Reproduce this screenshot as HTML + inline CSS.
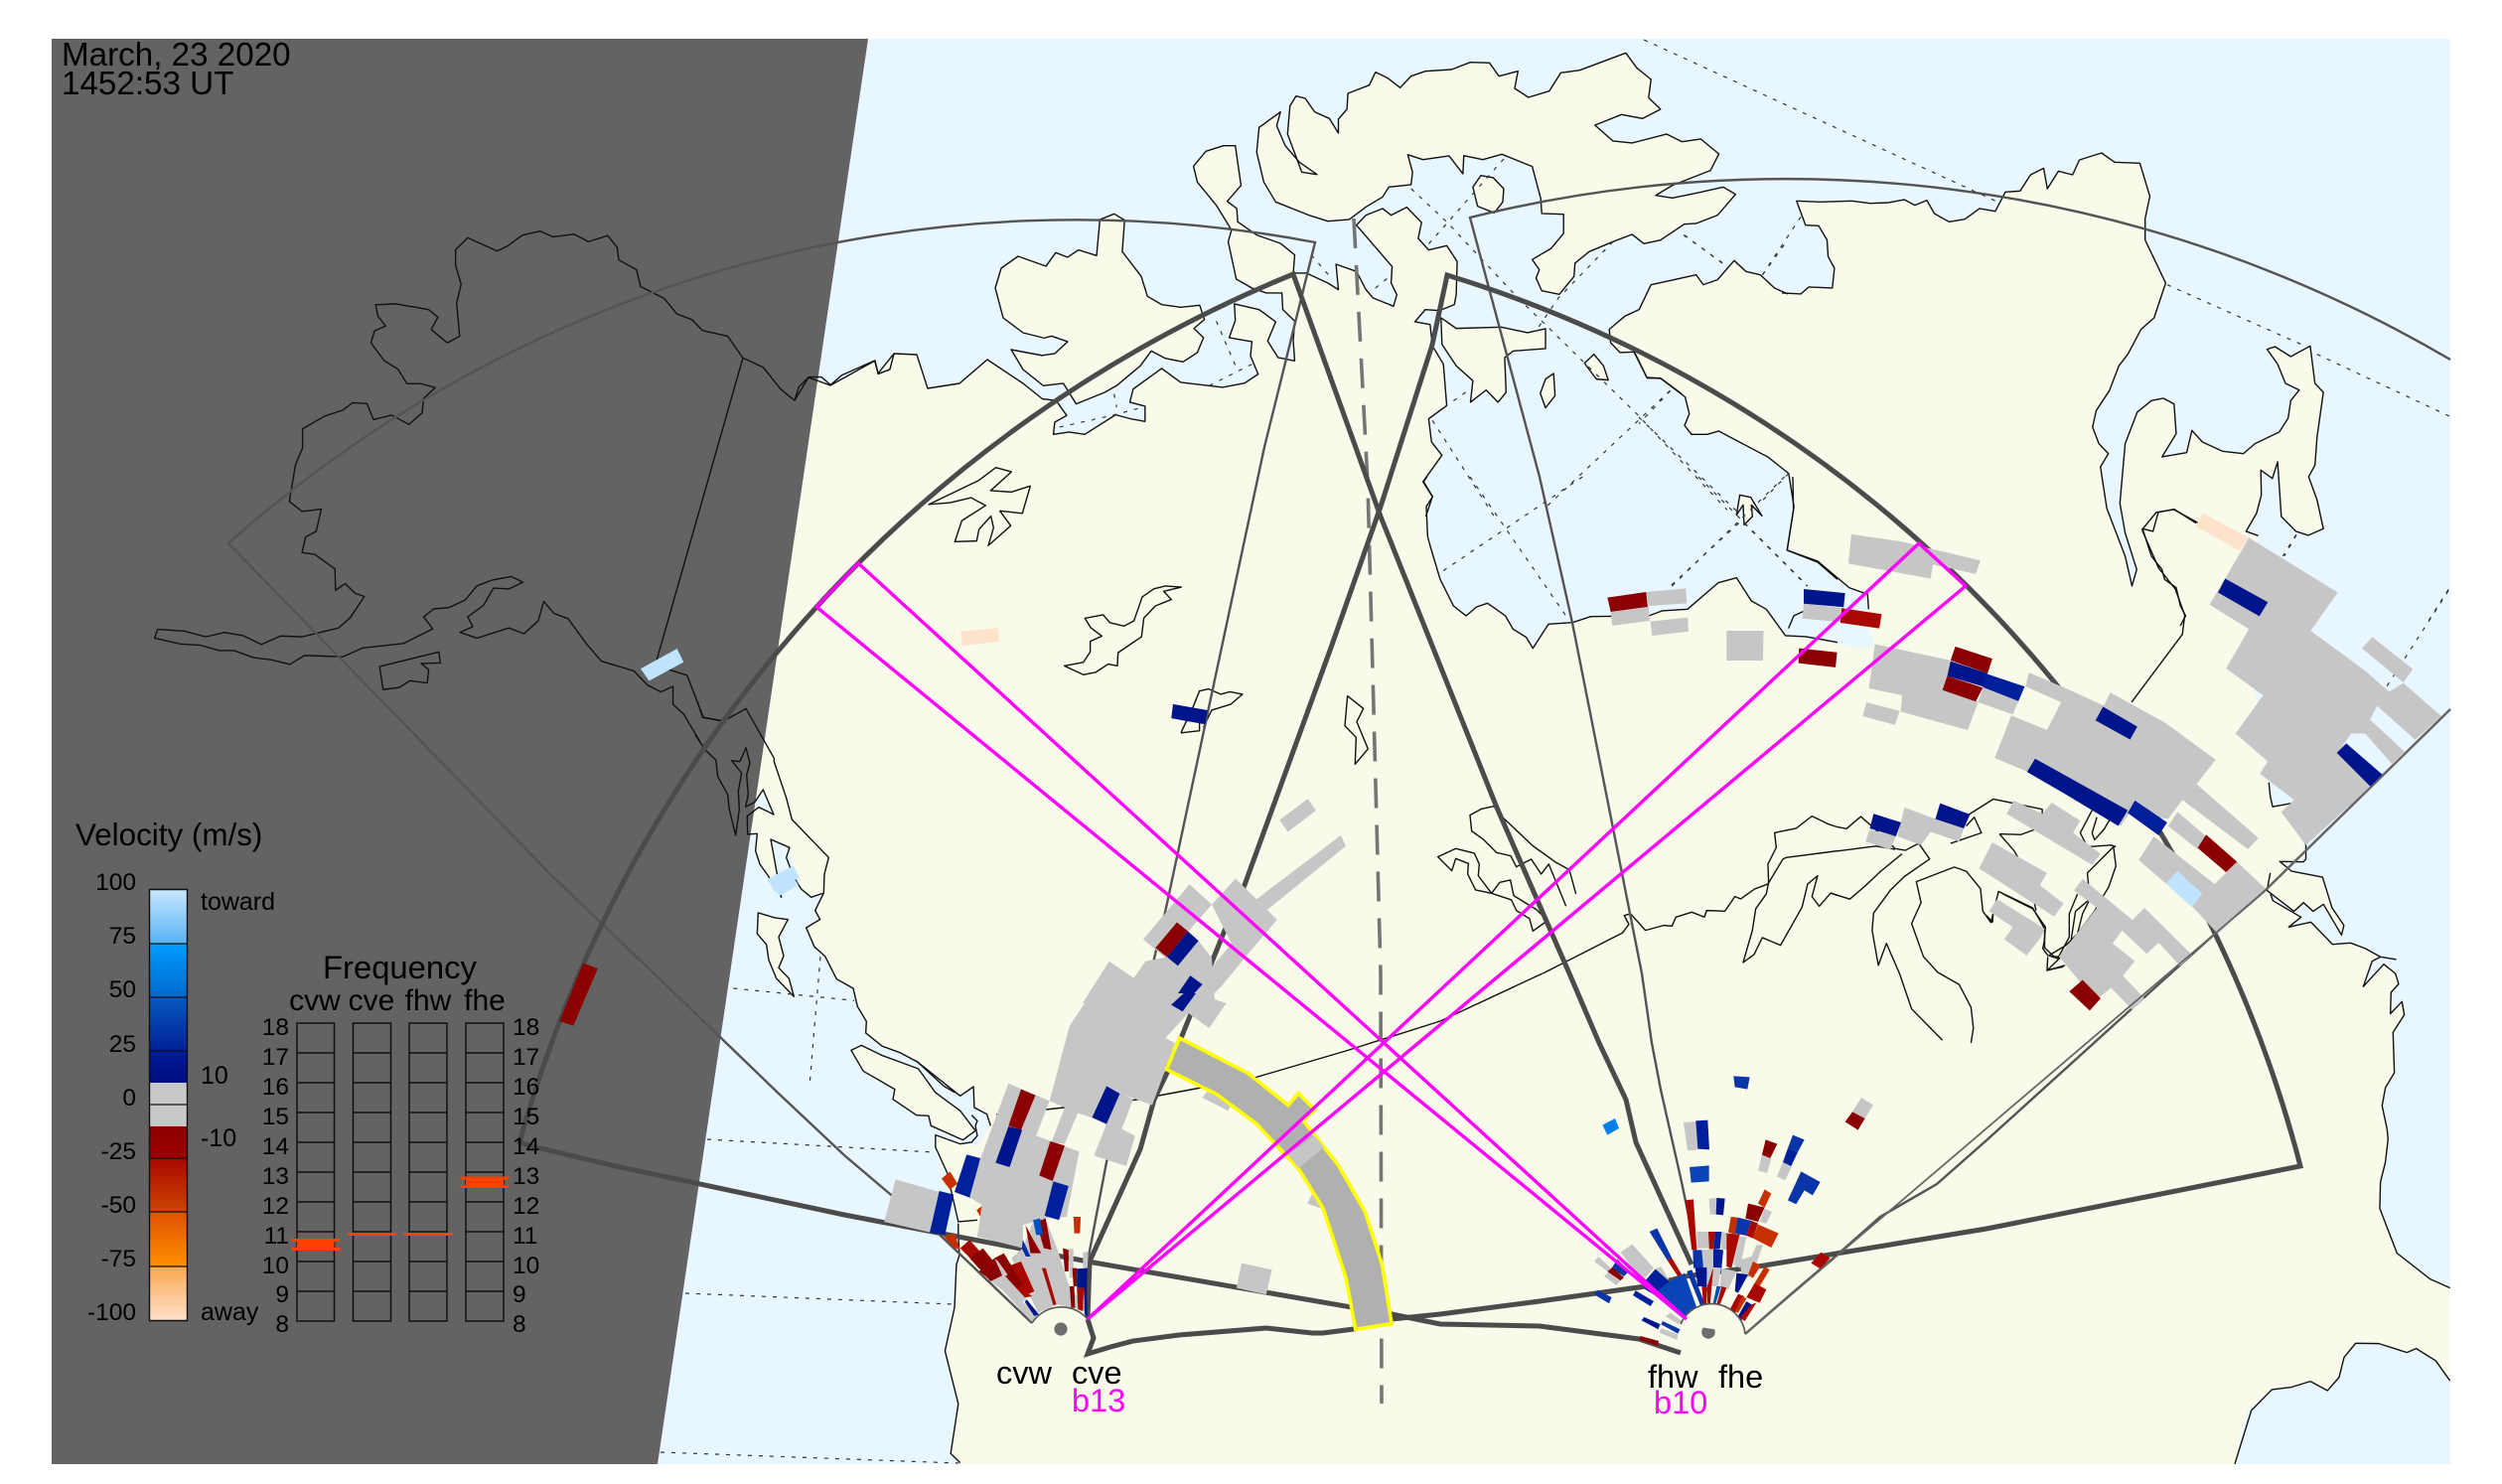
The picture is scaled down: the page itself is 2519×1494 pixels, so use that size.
<!DOCTYPE html>
<html><head><meta charset="utf-8"><title>SuperDARN velocity map</title>
<style>
html,body{margin:0;padding:0;background:#fff}
svg{display:block}
svg *{vector-effect:non-scaling-stroke}
text{font-family:"Liberation Sans",sans-serif;fill:#000}
.c{fill:none;stroke:#111;stroke-width:1.4;stroke-linejoin:round}
.i{fill:#f9faea;stroke:#111;stroke-width:1.4;stroke-linejoin:round}
.d{fill:none;stroke:#333;stroke-width:1.2;stroke-dasharray:4 7}
.T{fill:none;stroke:#4b4b4b;stroke-width:5;stroke-linejoin:miter}
.t{fill:none;stroke:#545454;stroke-width:2.4}
.g{fill:#c6c6c6}.r{fill:#8b0000}.R{fill:#a80800}.o{fill:#c63000}.b{fill:#00148c}.B{fill:#0a35a8}.L{fill:#0a45b8}.l{fill:#c0e4ff}.p{fill:#fde3cc}
.fb{fill:none;stroke:#111;stroke-width:1.5}
.m{fill:none;stroke:#ff00ff;stroke-width:3.4;stroke-linejoin:miter}
</style></head><body>
<svg xmlns="http://www.w3.org/2000/svg" width="2519" height="1494" viewBox="0 0 2519 1494">
<defs>
<linearGradient id="g1" x1="0" y1="0" x2="0" y2="1"><stop offset="0" stop-color="#c6e8ff"/><stop offset="1" stop-color="#58b2f2"/></linearGradient>
<linearGradient id="g2" x1="0" y1="0" x2="0" y2="1"><stop offset="0" stop-color="#009cff"/><stop offset="1" stop-color="#0068cc"/></linearGradient>
<linearGradient id="g3" x1="0" y1="0" x2="0" y2="1"><stop offset="0" stop-color="#0858c0"/><stop offset="1" stop-color="#00209a"/></linearGradient>
<linearGradient id="g4" x1="0" y1="0" x2="0" y2="1"><stop offset="0" stop-color="#001c98"/><stop offset="1" stop-color="#000c80"/></linearGradient>
<linearGradient id="g5" x1="0" y1="0" x2="0" y2="1"><stop offset="0" stop-color="#8b0000"/><stop offset="1" stop-color="#a00000"/></linearGradient>
<linearGradient id="g6" x1="0" y1="0" x2="0" y2="1"><stop offset="0" stop-color="#aa0800"/><stop offset="1" stop-color="#cc4400"/></linearGradient>
<linearGradient id="g7" x1="0" y1="0" x2="0" y2="1"><stop offset="0" stop-color="#e05000"/><stop offset="1" stop-color="#ff9000"/></linearGradient>
<linearGradient id="g8" x1="0" y1="0" x2="0" y2="1"><stop offset="0" stop-color="#f8a850"/><stop offset="1" stop-color="#ffe2cc"/></linearGradient>
</defs>
<rect width="2519" height="1494" fill="#fff"/>
<rect x="52" y="39" width="2415" height="1435" fill="#e8f6ff"/>

<!-- coarse land fill -->
<path fill="#f9faea" d="M700 420 800 403 814 380 836 388 881 363 884 376 900 356 923 357 934 391 966 386 994 362 1030 386 1050 402 1063 403 1074 418 1062 425 1060 437 1076 435 1092 437 1123 418 1153 424 1153 409 1138 405 1141 392 1170 371 1189 385 1231 390 1253 386 1267 377 1259 358 1260 344 1237 340 1244 323 1243 306 1268 312 1284 324 1276 343 1287 360 1303 363 1302 343 1303 323 1292 312 1291 295 1275 295 1245 281 1237 243 1240 232 1225 207 1205 183 1202 167 1214 152 1232 147 1244 147 1249 187 1236 203 1245 210 1246 223 1265 237 1289 245 1303 257 1302 275 1315 275 1337 285 1347 292 1345 266 1366 273 1375 292 1382 300 1403 308 1406 297 1401 285 1402 268 1366 227 1375 217 1392 210 1401 217 1416 209 1431 224 1428 240 1438 252 1457 247 1467 263 1466 297 1464 307 1449 313 1435 312 1425 324 1440 327 1442 348 1453 367 1457 408 1438 422 1441 445 1452 458 1433 485 1442 500 1436 510 1440 550 1450 583 1463 610 1476 620 1487 611 1498 607 1516 620 1523 633 1537 642 1543 653 1559 628 1583 627 1602 621 1660 620 1673 615 1699 613 1730 587 1748 582 1763 605 1778 613 1798 640 1841 646 1869 653 1889 650 1882 635 1880 598 1861 592 1831 567 1799 554 1806 510 1801 477 1780 460 1730 434 1719 437 1703 437 1696 428 1701 417 1697 400 1672 381 1658 380 1645 354 1631 355 1622 345 1620 332 1636 318 1650 312 1662 287 1708 277 1715 287 1729 282 1746 262 1758 273 1772 277 1794 295 1813 296 1821 289 1845 290 1847 270 1841 258 1839 242 1831 227 1818 227 1809 202 1864 202 1901 204 1917 201 1928 207 1940 202 1947 215 1962 223 1978 221 1993 210 2009 213 2019 193 2034 192 2044 176 2058 169 2061 190 2072 172 2087 176 2094 161 2116 154 2129 163 2154 164 2164 198 2160 220 2160 242 2180 285 2169 320 2155 332 2142 357 2133 368 2124 393 2110 413 2107 430 2113 447 2123 457 2115 470 2121 512 2140 560 2146 590 2151 573 2140 537 2134 507 2140 447 2152 415 2166 403 2178 401 2189 407 2191 437 2177 460 2202 456 2207 433 2217 445 2238 454 2259 457 2270 447 2295 435 2304 421 2306 403 2315 393 2301 386 2293 367 2283 352 2290 349 2306 359 2326 348 2331 386 2339 395 2333 440 2331 468 2324 480 2333 503 2339 532 2324 539 2312 535 2297 520 2293 465 2288 482 2276 473 2277 498 2272 517 2261 535 2273 539 2262 640 2284 788 2288 812 2307 809 2322 865 2295 867 2307 877 2338 883 2348 914 2360 931 2357 941 2339 910 2329 917 2319 909 2310 917 2282 896 2288 907 2317 923 2304 933 2327 928 2348 951 2367 949 2382 955 2397 963 2388 968 2379 993 2400 971 2412 980 2415 991 2407 999 2407 1021 2418 1008 2421 1022 2409 1039 2411 1080 2402 1095 2398 1113 2404 1147 2402 1170 2397 1190 2396 1217 2413 1262 2447 1288 2467 1297 2467 1390 2452 1370 2433 1358 2423 1362 2395 1353 2372 1352 2360 1367 2355 1387 2343 1400 2326 1391 2307 1397 2287 1399 2262 1420 2250 1474 962 1474 967 1473 957 1463 965 1413 951 1360 961 1317 965 1263 965 1232 953 1180 942 1155 942 1144 984 1154 997 1133 994 1122 981 1116 980 1094 969 1103 923 1068 888 1053 872 1040 872 1028 863 1013 859 995 842 986 831 963 820 953 812 934 826 926 821 917 829 899 817 903 800 887 795 853 776 845 787 903 773 882 761 857 762 839 753 840 752 822 764 813 779 820 768 795 760 807 700 700z"/>
<path fill="#f9faea" d="M1122 215 1132 222 1130 253 1149 278 1155 298 1170 307 1208 307 1213 322 1202 331 1212 340 1205 355 1191 364 1173 361 1159 353 1148 368 1124 388 1112 395 1083 407 1071 386 1050 388 1030 372 1018 352 1050 358 1062 356 1075 344 1062 338 1050 340 1030 335 1010 320 1002 290 1008 270 1025 258 1053 268 1063 254 1075 259 1086 252 1104 257 1107 221z"/>

<!-- night shadow -->
<polygon points="52,39 874,39 662,1474 52,1474" fill="#636363"/>

<!-- Z5 group: arctic -->
<g transform="translate(1050 20) scale(.4783 .3333)">
<path class="i" d="M500 278 455 325 450 400 465 490 490 550 560 590 600 608 645 603 680 565 715 535 728 505 775 498 778 460 768 407 800 422 855 411 884 465 886 410 926 422 966 406 1030 443 1048 540 1050 585 1096 587 1096 645 1070 690 1030 724 1045 755 1038 780 1050 818 1087 829 1118 775 1120 735 1150 700 1200 670 1240 648 1265 676 1300 665 1350 617 1375 615 1420 590 1458 527 1432 505 1380 522 1325 538 1290 530 1325 500 1405 455 1423 405 1385 360 1345 368 1313 345 1240 372 1200 366 1162 318 1218 286 1262 298 1300 270 1275 235 1280 180 1250 145 1227 100 1130 152 1090 160 1066 215 1022 234 993 207 1000 155 960 170 940 130 900 128 860 150 805 155 775 170 752 205 725 175 700 158 687 197 642 222 640 270 622 300 622 342 603 298 572 278 552 237 533 230 520 260 515 345 545 460 577 467 540 430 510 380 492 320z"/>
<path class="i" d="M905 505 922 470 948 477 970 510 968 550 950 583 915 563z"/>
<path class="i" d="M1140 1037 1160 1010 1180 1045 1190 1088 1165 1085z"/>
<path class="i" d="M1075 1068 1078 1135 1058 1172 1047 1128 1058 1085z"/>
<path class="i" d="M838 900 870 932 965 928 1020 945 1058 933 1058 993 990 1000 972 1020 975 1125 958 1155 933 1118 900 1155 905 1090 870 1045 840 980z"/>
<path class="c" d="M0 1145 28 1150 50 1195 25 1215 22 1252 55 1245 88 1252 153 1193 185 1205 215 1213 215 1167 183 1155 190 1115 250 1053 290 1095 378 1110 425 1097 453 1070 437 1015 440 972 392 960 405 908 403 858 455 875 490 912 473 970 495 1020 530 1030 527 970 530 910 505 875 503 825 470 825 440 810 407 783 390 670 397 635 365 560 325 490 317 442 343 397 380 380 405 380 417 500 388 548 408 570 410 610 450 650 500 675 530 710 527 765 555 765 600 795 622 815 617 738 660 760 680 815 695 840 738 865 745 830 733 795 735 745 660 620 680 590 715 570 733 590 766 566 797 612 790 660 812 695 850 682 872 730 870 830 866 860 835 878 805 875 783 912 815 920 820 985 843 1040 850 1165 812 1205 818 1275 840 1315 800 1395 820 1440 806 1500"/>
<path class="c" d="M120 603 150 586 172 605 167 700 207 775 220 835 250 860 290 868 330 862 340 905 318 932 338 960 325 1005 295 1033 257 1022 228 1000 205 1045 155 1105 130 1125 70 1160 43 1098 0 1105"/>
<path class="c" d="M120 603 113 712 75 695 52 717 27 703 6 745"/>
<path class="c" d="M0 962 18 955 52 972 25 1008 0 1013"/>
<path class="c" d="M1568 828 1540 810 1510 770 1480 760 1455 727 1420 785 1390 800 1375 770 1280 800 1255 875 1225 895 1192 935 1195 975 1215 1005 1245 1003 1272 1082 1300 1082 1345 1130"/>
</g>
<path class="c" d="M1053 268 1025 258 1008 270 1002 290 1010 320 1030 335 1050 340M1050 358 1018 352 1030 372 1050 388M800 403 814 380 836 388 881 363 884 376 900 356 923 357 934 391 966 386 994 362 1030 386 1050 402"/>

<!-- Z7 group -->
<g transform="translate(1650 130) scale(.5293 .3333)">
<path class="c" d="M272 495 308 498 323 477 368 480 372 420 360 385 358 335 342 292 317 290 300 217 345 220 405 217 440 224 475 222 505 213 525 230 548 215 562 255 590 280 620 272 648 240 678 248 697 190 725 187 745 138 770 118 777 180 798 127 825 138 838 93 880 72 905 100 953 103 972 203 963 270 963 335 1002 465 980 570 955 605 930 680 913 715 895 790 870 850 863 900 875 950 893 980 878 1020 890 1145 925 1290 938 1380 947 1330 925 1220 915 1130 925 950 948 855 975 820 998 813 1018 830 1022 920 995 990 1042 977 1052 910 1072 945 1110 973 1150 980 1172 950 1218 915 1235 873 1240 820 1256 788 1230 768 1215 710 1195 665 1210 657 1240 687 1277 655 1286 768 1302 795 1290 930 1286 1015 1274 1050 1290 1120 1302 1207 1273 1227 1250 1215 1222 1170 1215 1005 1205 1055 1183 1030 1184 1105 1175 1160 1155 1215 1178 1228"/>
<path class="c" d="M88 810 96 860 87 895 100 922 130 922 152 912 245 990 285 1040 295 1140 282 1272 340 1305 400 1385 435 1405 437 1450"/>
<path class="c" d="M1060 1190 1018 1148 988 1157 978 1215 958 1207 975 1290 995 1330 1000 1360 1022 1385 1030 1440 1040 1470 1030 1500"/>
<path class="d" d="M1005 470 1260 650M1290 680 1543 868M85 320 160 405M235 440 310 260M60 790 0 890M0 870 190 1160M285 1040 230 1130M190 1190 60 1380M200 1190 320 1380M1250 1225 1225 1290M1540 1390 1500 1490"/>
</g>
<path class="d" d="M1655 40 2015 205"/>
<path class="c" d="M1645 354 1658 380 1672 381 1697 400"/>

<!-- Z9 group -->
<g transform="translate(1350 480) scale(.3333)">
<path class="c" d="M1365 0 1367 100 1348 222 1440 258 1500 310"/>
<path class="c" d="M260 0 250 15 277 60 258 90 262 180 270 210 300 310 340 390 378 420 410 393 443 382 497 420 520 460 560 485 580 518 627 445 700 440 755 422 930 420 970 405 1047 400 1140 320 1195 305 1240 375 1285 400 1343 480 1405 483 1500 500"/>
<path class="c" d="M1352 458 1368 420 1400 405 1430 405"/>
<path class="i" d="M1195 115 1205 55 1238 62 1272 118 1240 85 1243 120 1218 145 1215 85z"/>
<path class="c" d="M20 662 68 700 48 740 82 822 43 868 46 787 12 752z"/>
<path class="c" d="M710 1260 690 1187 650 1165 580 1115 490 1030 462 995 425 1003 390 1022 395 1070 430 1095 470 1135 513 1145 530 1178 575 1155 605 1200 628 1170 665 1260 680 1297"/>
<path class="c" d="M293 1148 347 1123 403 1137 418 1170 415 1205 455 1258 480 1225 512 1218 522 1265 590 1307 625 1340 580 1372 570 1335 530 1310 515 1278 455 1258 407 1248 383 1200 385 1168 347 1153 335 1190z"/>
<path class="c" d="M610 1500 850 1378 870 1352 856 1325 875 1320 920 1370 975 1355 1000 1357 1012 1330 1060 1315 1098 1330 1105 1310 1160 1312 1190 1268 1208 1275 1250 1245 1290 1230 1335 1155 1345 1150 1500 1130"/>
<path class="c" d="M1500 1058 1475 1050 1423 1025 1375 1062 1310 1075 1315 1120 1290 1170 1292 1225 1285 1260 1253 1305 1243 1370 1215 1467 1248 1443 1273 1392 1328 1415 1393 1300 1410 1230 1440 1205 1423 1268 1445 1297 1480 1257 1500 1265"/>
<path class="d" d="M390 0 680 420M730 0 300 290M1080 0 1410 330M1340 0 1000 330"/>
</g>

<!-- Z4 lines -->
<g transform="translate(1750 500) scale(.4783 .3508)">
<path class="c" d="M850 95 880 45 917 37 968 75M850 95 885 205 920 265 940 340 935 395 828 590"/>
<path class="c" d="M209 948 228 953 258 918 285 950 330 1010 352 1015 380 995 403 1040 350 1090 320 1130 285 1195 282 1245 295 1345 312 1282 340 1370 365 1470 430 1560"/>
<path class="c" d="M209 1017 290 1003 330 1012M195 1138 235 1155 265 1120 300 1075 345 1025"/>
<path class="c" d="M490 1568 495 1525 490 1465 465 1400 420 1365 390 1320 365 1225 385 1165 375 1105 455 1063 480 1075 510 1125 515 1190 532 1222 548 1133 620 1180 645 1240 645 1295 665 1320 680 1320 700 1280 710 1190 740 1155 735 1080 790 1005 795 1060 780 1120 760 1165 750 1190 700 1280 680 1320 650 1360 688 1345"/>
<path class="c" d="M440 960 488 910 537 868 640 897 640 930M447 995 512 965 497 920 480 945M550 968 595 970 625 955M550 968 580 1015 595 1050M745 900 720 965 735 1005 785 1000 795 1005M755 920 745 965 750 985 770 955 785 920"/>
<path class="c" d="M1117 820 1120 860 1125 890 1165 880 1195 1000 1195 1040 1190 1048 1140 1047 1165 1075 1230 1092 1250 1180 1275 1230 1270 1258 1232 1170 1210 1190 1190 1165 1170 1190 1113 1130 1120 1080"/>
<path class="d" d="M1175 110 1150 170M1495 270 1365 545"/>
</g>

<!-- Z8 lines -->
<g transform="translate(2000 900) scale(.3333)">
<path class="c" d="M858 0 865 20 950 70 913 100 980 85 1045 152 1100 148 1145 165 1190 190 1238 198M1190 190 1165 203 1138 280 1200 212 1235 240 1245 272 1222 297 1220 362 1255 325 1262 365 1228 418 1232 540 1205 585 1195 640 1210 710 1213 740 1205 810 1190 870 1188 950 1240 1085 1340 1163 1400 1190"/>
<path class="c" d="M1400 1470 1357 1410 1298 1373 1270 1385 1185 1358 1115 1357 1080 1400 1065 1460 1030 1500 978 1472 920 1490 862 1497 800 1560 750 1722"/>
<path class="c" d="M50 0 140 45 178 100 175 140 170 165 185 185 215 195 250 130 250 60 275 0M185 190 183 230 232 220M145 30 150 50M310 20 290 60 275 120 240 155 190 185M0 65 18 85 20 60"/>
</g>

<!-- Z10 lakes -->
<g transform="translate(820 450) scale(.3333 .3571)">
<path class="c" d="M345 162 495 95 548 58 595 70 532 123 595 127 652 110 628 187 560 180 593 222 525 278 541 228 533 195 497 232 490 265 424 267 445 208 517 165 473 143 410 157z"/>
<path class="c" d="M755 617 812 607 833 578 833 548 868 533 835 510 817 483 872 473 892 495 935 505 965 490 990 423 1025 400 1060 392 1108 395 1055 407 1078 430 1030 448 995 482 988 535 917 580 915 617 887 612 850 635 812 642z"/>
<path class="c" d="M1107 806 1163 800 1163 760M1107 806 1145 730 1163 688 1190 682 1227 697 1255 690 1293 697 1258 725 1200 742 1175 790"/>
</g>

<!-- Alaska -->
<g transform="translate(100 180) scale(.5102 .4464)">
<path class="c" d="M1568 395 1560 430 1537 440 1530 410 1465 443 1443 465 1425 447 1400 447 1380 470 1372 500 1345 475 1310 425 1270 404 1240 355 1190 342 1170 318 1140 305 1115 270 1068 243 1060 205 1025 183 1022 155 1003 128 965 142 937 125 895 131 870 118 835 127 805 152 785 163 727 133 703 160 703 195 714 238 705 280 711 355 687 370 655 340 668 312 650 295 585 282 545 284 550 310 565 332 543 343 536 370 562 410 590 430 607 462 635 462 663 471 640 495 637 528 611 554 577 533 541 543 528 507 500 505 480 522 445 535 401 564 401 607 387 645 375 728 400 750 438 745 428 795 407 808 400 843 425 847 465 880 466 928 485 913 505 935 523 942 495 990 472 1013 400 1033 358 1031 320 1050 283 1030 247 1023 210 1033 168 1020 115 1016 109 1036 160 1049 200 1052 237 1064 266 1064 305 1080 340 1085 376 1095 405 1075 480 1078 520 1058 600 1048 658 1015 640 988 660 970 690 967 722 950 745 918 775 905 813 897 836 910 808 925 778 923 758 962 727 988 737 1010 712 1023 745 1036 808 1013 838 1026 866 997 877 953 897 980 925 992 962 1050 991 1088 1055 1110 1082 1142 1108 1157 1132 1145 1132 1185 1153 1207 1188 1275"/>
<path class="c" d="M1105 1100 1160 1120 1192 1215 1228 1222"/>
<path class="c" d="M553 1100 670 1067 673 1092 635 1093 650 1107 647 1137 613 1132 592 1147 560 1152z"/>
<path class="c" d="M1270 404 1100 1085"/>
</g>

<!-- Z11 -->
<g transform="translate(700 700) scale(.3333)">
<path class="c" d="M5 15 22 66 78 77 100 70 153 40 238 190 238 200 275 310 292 375 403 490 390 540 388 597 350 610 320 585 298 550 275 490 285 460 228 435 260 610 220 545 195 510 182 470 187 418 158 420 157 365 192 338 237 360 205 285 180 322 152 337 160 300 155 240 165 205 153 158 135 200 110 197 140 235 130 290 133 345 122 423 103 345 98 300 68 245 62 195 30 165 0 120"/>
<path class="c" d="M388 597 362 650 377 677 335 702 360 760 392 788 427 857 477 885 490 940 517 985 515 1020 565 1060 620 1080 672 1108 750 1180 785 1200"/>
<path class="i" d="M190 657 240 672 280 677 252 730 267 787 252 823 283 855 298 910 245 855 222 800 215 753 187 720z"/>
<path class="d" d="M115 885 480 922M378 790 345 1180"/>
</g>

<!-- Z2 coast -->
<g transform="translate(850 1000) scale(.3827 .3333)">
<path class="c" d="M190 205 305 310 340 282 342 345 375 365 385 400"/>
<path class="i" d="M18 172 45 157 100 188 195 228 240 300 305 355 345 415 312 443 228 400 222 370 190 368 128 320 133 290 50 235z"/>
<path class="c" d="M335 368 350 385 345 400 350 430 335 450 305 455 240 428 240 465 270 540 300 690 350 685M300 695 300 730 303 790 295 820 290 950 265 1080 300 1240 280 1390 305 1418"/>
</g>
<path class="c" d="M1003 1122 1053 1117 1145 1107 1263 1085 1355 1058 1450 1028 1553 980"/>
<path class="d" d="M712 1147 940 1160M690 1302 959 1313M665 1462 965 1473"/>
<g transform="translate(1050 20) scale(.4783 .3333)">
<path class="d" d="M775 510 850 610 1000 840 1250 1190 1440 1480M970 420 810 680M700 810 730 775M820 1210 950 1500M1200 670 1085 840 1040 935M1320 1120 1060 1470M1350 650 1430 735M1560 680 1515 770M565 710 610 785M365 910 410 1060M440 1040 350 1105M150 1130 155 1170M35 1230 145 1195 210 1170M890 1125 860 1155"/>
</g>

<!-- dashed line -->
<path d="M1363 220 1377 487 1390 980 1391 1413" fill="none" stroke="#757575" stroke-width="3.6" stroke-dasharray="30 17"/>

<!-- thin sectors -->
<path class="t" d="M1039 1332 946 1243 896 1202 850 1163 783 1100 700 1020 554 880 230 547 A1282 1282 0 0 1 1324 244 L1273 450 1174 914 1114 1170 1095 1270"/>
<path class="t" d="M1757 1343 1803 1303 1850 1263 1893 1225 1950 1192 2000 1148 2160 1003 2230 940 2281 896 2467 714"/>
<path class="t" d="M2467 362 A1321 1321 0 0 0 1480 219 L1550 480 1583 627 1653 980 1663 1050 1672 1097 1693 1190 1707 1257"/>
<!-- thick sectors -->
<path class="T" d="M1095 1328 1097 1270 1148 1157 1162 1107 1175 1080 1198 1023 1232 939 1253 891 1340 652 1390 510 1442 347 1457 277 A1272 1272 0 0 1 2316 1174 L2000 1237 1770 1275 1697 1285 1657 1295 1550 1310 1450 1323 1401 1328 1363 1338 1332 1342 1321 1342 1275 1337 1187 1344 1141 1350 1118 1356 1095 1363 1101 1347 1095 1328"/>
<path class="T" d="M1692 1362 1650 1348 1550 1335 1450 1333 1401 1323 1095 1270 850 1223 620 1174 540 1155 523 1150 A1333 1333 0 0 1 1302 276 L1390 520 1507 813 1580 980 1610 1050 1637 1107 1647 1150 1703 1273"/>

<!-- cells right -->
<g transform="translate(1750 500) scale(.4783 .3508)">
<path class="g" d="M238 108 340 128 510 183 500 222 410 195 405 235 232 192z"/>
<path class="g" d="M288 423 447 470 440 515 505 590 483 670 342 617 345 570 275 550z"/>
<path class="g" d="M505 590 515 548 590 587 578 625zM270 590 340 615 330 655 262 630z"/>
<path class="g" d="M612 505 690 550 770 600 783 562 900 650 1005 755 965 825 935 870 905 925 825 905 805 945 610 790 540 750 575 628 650 670 680 590 605 545z"/>
<path class="g" d="M965 825 1095 980 1073 1012 935 870zM925 905 985 975 965 1010 905 945z"/>
<path class="g" d="M875 975 1003 1112 1028 1078 1050 1048 1110 1125 1010 1255 955 1175 843 1043z"/>
<path class="g" d="M1075 118 1262 275 1205 385 1320 500 1370 560 1400 535 1480 630 1425 698 1345 600 1330 640 1405 735 1378 770 1320 680 1290 680 1262 735 1357 800 1195 1000 1143 905 1170 870 1098 795 1115 760 1047 680 1105 570 1027 493 1075 380 992 310 1025 235z"/>
<path class="g" d="M1335 403 1420 495 1400 533 1313 435z"/>
<path class="g" d="M580 872 640 910 660 878 720 930 705 965 763 1025 745 1057 565 910zM535 992 650 1080 635 1115 685 1168 665 1205 507 1067zM545 1155 645 1240 637 1265 607 1317 560 1270 578 1235 528 1190z"/>
<path class="g" d="M725 1097 830 1215 855 1180 955 1315 930 1347 885 1280 860 1312 808 1245 788 1282 835 1333 810 1375 855 1440 830 1473 785 1410 752 1445 675 1320 755 1180 707 1130z"/>
<path class="g" d="M277 955 332 975 320 1013 268 990zM350 892 415 925 475 952 465 990 405 962 385 1000 335 975z"/>
<path class="g" d="M138 307 222 320 218 360 135 350z"/>
<path class="r" d="M128 435 208 447 205 490 127 478zM457 430 535 465 525 507 447 470zM440 515 515 548 500 588 430 555zM985 970 1050 1048 1027 1078 967 1008zM725 1387 763 1440 740 1475 697 1420z"/>
<path class="R" d="M218 320 302 337 297 378 215 362z"/>
<path class="b" d="M138 265 225 277 222 317 138 307zM447 472 525 507 515 545 440 515zM608 790 625 752 695 805 820 900 800 945 690 855zM768 603 840 660 825 697 752 642zM1025 235 1115 303 1097 343 1010 275zM1280 708 1358 800 1333 835 1260 735zM285 910 343 935 332 975 277 952zM425 880 488 912 475 952 415 925z"/>
<path fill="#001f9a" d="M520 507 603 545 590 587 515 547zM835 872 903 935 885 972 820 908z"/>
<path class="l" d="M925 1075 977 1140 955 1178 900 1110z"/>
<path class="p" d="M978 47 1075 118 1055 155 963 85z"/>
</g>
<g transform="translate(1350 480) scale(.3333)">
<path class="r" d="M805 365 922 348 927 393 815 408z"/>
<path class="g" d="M922 348 1042 337 1045 382 930 390zM815 408 930 393 933 435 820 450zM935 437 1048 425 1050 467 940 480zM1165 465 1277 465 1275 555 1165 555z"/>
</g>
<path d="M1757 1343 2230 940 2281 896 2467 714" fill="none" stroke="#666" stroke-width="1.8"/>

<!-- cells left -->
<g transform="translate(820 450) scale(.3333 .3571)">
<path class="p" d="M442 520 555 510 558 548 447 560z"/>
<path class="b" d="M1083 725 1187 742 1180 782 1078 765z"/>
<path class="g" d="M993 1388 1133 1233 1200 1290 1060 1440zM1200 1290 1272 1217 1335 1275 1368 1305 1397 1333 1300 1440 1230 1520 1208 1540 1170 1500 1260 1400zM1335 1275 1590 1095 1605 1125 1368 1305zM1405 1052 1490 992 1515 1025 1430 1085zM810 1568 890 1450 965 1497 1000 1450 1065 1438 1100 1463 1160 1392 1200 1440 1210 1568z"/>
<path class="r" d="M1030 1412 1095 1340 1128 1365 1065 1438z"/>
<path class="b" d="M1065 1438 1128 1365 1160 1392 1098 1463zM1078 1568 1135 1490 1172 1515 1120 1568z"/>
</g>
<g transform="translate(850 1000) scale(.3827 .3333)">
<path class="g" d="M593 98 650 0 925 0 1005 30 960 105 905 60 845 135 870 150 845 230 810 338 725 302 690 395 650 375 610 360 540 325z"/>
<path class="g" d="M580 345 615 360 580 455 545 450zM760 320 730 410 765 430 742 522 657 490 690 395 725 300z"/>
<path class="b" d="M690 280 725 303 690 395 652 375zM893 0 925 0 890 55 860 35z"/>
<path class="g" d="M105 690 135 562 250 600 225 722z"/>
<path fill="#001f9a" d="M225 722 250 597 288 608 265 730zM290 600 322 487 358 498 332 618z"/>
<path class="o" d="M256 560 278 538 298 575 278 593zM348 655 365 640 368 665 358 675z"/>
<path class="g" d="M350 735 362 640 330 615 358 500 432 272 540 325 505 430 618 478 585 675 530 680 470 700 470 770z"/>
<path class="r" d="M465 290 503 308 465 413 432 400zM542 447 580 460 548 567 513 550z"/>
<path class="b" d="M432 402 468 413 435 525 398 512z"/>
<path fill="#001f9a" d="M550 568 590 582 565 685 527 672z"/>
<path class="g" d="M942 315 960 290 1020 330 1010 355zM1045 815 1125 835 1110 910 1032 890zM1218 635 1232 605 1255 650z"/>
<!-- cv fan -->
<path class="g" d="M470 770 500 680 530 685 560 770 590 880 640 960 560 940 510 965 440 800zM395 870 495 995 510 970 440 905zM628 783 642 780 640 830 628 830zM590 772 603 772 603 860 593 860z"/>
<path class="o" d="M262 735 290 725 305 775 290 770zM603 675 622 675 620 725 605 725z"/>
<path class="R" d="M305 770 330 745 395 830 375 850zM430 825 465 810 500 900 470 915zM612 890 630 890 628 960 615 955zM520 830 530 830 558 940 550 942zM400 880 445 880 495 915 470 920z"/>
<path class="r" d="M330 800 365 770 420 850 385 870zM355 840 395 800 445 880 400 880zM395 800 420 785 470 880 440 905zM505 690 530 680 545 775 525 770zM477 700 495 740 518 785 490 785zM575 770 590 775 590 840 580 840zM593 885 605 885 607 950 597 950zM600 830 612 830 612 885 603 885z"/>
<path class="g" d="M395 800 405 810 430 850 418 858zM385 870 420 850 480 925 460 935z"/>
<path class="b" d="M480 925 512 970 500 975 475 932zM612 832 640 830 638 890 612 890zM630 890 638 890 640 980 632 968z"/>
<path fill="#0030a8" d="M470 745 490 795 478 795 467 770z"/>
<path fill="#0050c0" d="M497 685 515 680 523 730 505 730z"/>
</g>
<g transform="translate(0 780) scale(.3954 .3827)"><path class="r" d="M1485 495 1522 510 1460 660 1425 648z"/></g>
<g transform="translate(100 180) scale(.5102 .4464)"><path class="l" d="M1068 1105 1140 1060 1153 1090 1085 1132z"/></g>
<polygon class="l" points="775,889 794,876 804,891 785,902"/>
<g transform="translate(700 700) scale(.3333)"><path class="l" d="M218 555 297 515 313 550 240 595z"/></g>

<!-- fh fan -->
<g transform="translate(1550 1050) scale(.3333)">
<path class="g" d="M435 240 472 237 478 322 447 325zM945 208 972 165 1008 187 983 228zM672 338 700 350 687 393 660 385zM735 360 762 372 742 415 717 403zM512 470 535 468 533 518 515 518zM680 500 702 510 685 545 665 540zM475 570 510 570 510 620 475 620zM550 570 570 575 565 625 548 622zM605 585 625 585 605 680 585 670zM655 610 675 610 650 680 630 670zM490 625 525 622 525 680 495 680zM505 678 520 678 518 735 505 735zM520 680 548 682 540 735 520 735zM550 680 595 690 570 745 545 735zM605 655 640 645 665 680 640 710 610 700zM245 632 280 608 345 680 310 720zM350 683 367 675 390 715 375 725zM165 660 178 645 215 680 205 690zM195 705 210 690 245 718 232 732zM362 875 368 862 418 880 415 897zM380 825 395 815 430 840 420 850z"/>
<path class="B" d="M586 100 635 103 628 140 590 133zM765 278 800 292 780 330 750 318zM790 388 848 420 825 460 800 445 775 487 750 475zM598 527 640 537 625 582 590 575zM463 625 490 625 495 680 465 680zM332 570 355 560 400 650 385 655zM218 680 235 653 270 690 255 705zM165 760 175 747 218 768 210 787zM367 850 372 840 425 865 418 878zM445 690 460 685 500 790 488 798z"/>
<path class="L" d="M453 375 512 370 512 418 458 422zM362 738 438 695 475 800 440 838 345 760z"/>
<path fill="#0080e8" d="M190 248 228 228 240 258 205 278z"/>
<path fill="#001f9a" d="M472 235 508 233 513 322 478 320zM750 318 780 330 760 372 735 360zM530 570 550 570 545 622 527 622zM525 622 555 625 550 680 525 678zM310 728 350 683 392 720 345 760 320 745zM282 762 290 748 345 780 335 795z"/>
<path class="b" d="M535 468 560 470 555 520 533 518zM470 680 505 678 505 735 478 735zM595 695 630 700 600 755 590 750zM625 780 640 790 610 838 597 830zM308 838 316 828 365 850 358 865z"/>
<path class="r" d="M945 208 983 228 962 263 923 238zM683 292 718 305 697 348 672 338zM630 485 680 497 660 540 622 530zM205 690 220 678 255 708 245 718zM300 896 305 885 360 900 357 915z"/>
<path class="R" d="M440 475 465 472 475 625 460 625zM640 537 660 545 645 590 625 582zM510 570 530 570 527 622 512 622zM565 575 605 578 580 680 565 675zM385 655 400 650 430 700 418 705zM525 678 520 735 515 795 508 795 505 740zM550 735 565 740 545 790 535 790zM490 735 505 735 505 790 495 790zM820 665 850 632 878 650 848 682zM650 725 685 745 665 785 625 768zM600 758 618 765 590 815 575 805zM640 790 655 785 620 840 605 830z"/>
<path class="o" d="M680 442 700 455 680 497 660 485zM578 525 598 527 590 578 570 572zM660 548 722 575 700 618 645 590zM645 660 668 672 645 710 630 700zM680 675 695 685 665 735 650 725zM612 765 625 772 600 815 590 812z"/>
<path fill="#0050c0" d="M535 735 548 735 530 795 522 795z"/>
</g>

<!-- radar sites -->
<circle cx="1068" cy="1338" r="6.6" fill="#6e6e6e"/>
<circle cx="1720" cy="1341" r="6.8" fill="#6e6e6e"/>
<path d="M1039 1332 A35 35 0 0 1 1095 1328" fill="#f9faea" stroke="#555" stroke-width="1.6"/>
<path d="M1692 1333 A34 34 0 0 1 1757 1343" fill="#f9faea" stroke="#555" stroke-width="1.6"/>

<!-- yellow gate -->
<g transform="translate(850 1000) scale(.3827 .3333)">
<path d="M882 135 1060 240 1168 338 1195 302 1238 352 1207 384 1300 520 1370 660 1415 820 1440 998 1345 1015 1320 860 1260 650 1195 530 1085 395 980 305 848 230z" fill="#b0b0b0" stroke="#ffff00" stroke-width="3.6"/>
<path class="g" d="M1237 430 1262 465 1195 528 1168 487z"/>
</g>

<!-- beams -->
<path class="m" d="M1095 1328 1932 547 1979 590 1095 1328"/>
<path class="m" d="M1698 1328 864 567 822 611 1698 1328"/>

<!-- header -->
<text x="62" y="66" font-size="33.2">March, 23 2020</text>
<text x="62" y="95" font-size="33.2">1452:53 UT</text>

<!-- velocity legend -->
<text x="76" y="851" font-size="31.4">Velocity (m/s)</text>
<g font-size="24.5" text-anchor="end">
<text x="137" y="896">100</text><text x="137" y="950">75</text><text x="137" y="1004">50</text><text x="137" y="1059">25</text><text x="137" y="1113">0</text><text x="137" y="1167">-25</text><text x="137" y="1221">-50</text><text x="137" y="1275">-75</text><text x="137" y="1329">-100</text>
</g>
<g>
<rect x="151" y="896" width="37" height="54" fill="url(#g1)"/>
<rect x="151" y="950" width="37" height="54" fill="url(#g2)"/>
<rect x="151" y="1004" width="37" height="54" fill="url(#g3)"/>
<rect x="151" y="1058" width="37" height="32" fill="url(#g4)"/>
<rect x="151" y="1090" width="37" height="44" fill="#c8c8c8"/>
<rect x="151" y="1134" width="37" height="32" fill="url(#g5)"/>
<rect x="151" y="1166" width="37" height="54" fill="url(#g6)"/>
<rect x="151" y="1220" width="37" height="55" fill="url(#g7)"/>
<rect x="151" y="1275" width="37" height="55" fill="url(#g8)"/>
<path d="M151 950H188M151 1004H188M151 1058H188M151 1112H188M151 1166H188M151 1220H188M151 1275H188" stroke="#111" stroke-width="1.2" fill="none"/>
<rect x="150.5" y="895.5" width="38" height="434" fill="none" stroke="#111" stroke-width="1.4"/>
</g>
<g font-size="25">
<text x="202" y="916">toward</text><text x="202" y="1091">10</text><text x="202" y="1154">-10</text><text x="202" y="1329">away</text>
</g>

<!-- frequency legend -->
<text x="325" y="985" font-size="32.8">Frequency</text>
<g font-size="30" text-anchor="middle">
<text x="317" y="1017">cvw</text><text x="374" y="1017">cve</text><text x="431" y="1017">fhw</text><text x="488" y="1017">fhe</text>
</g>
<g font-size="24.5" text-anchor="end">
<text x="291" y="1042">18</text><text x="291" y="1072">17</text><text x="291" y="1102">16</text><text x="291" y="1132">15</text><text x="291" y="1162">14</text><text x="291" y="1192">13</text><text x="291" y="1222">12</text><text x="291" y="1252">11</text><text x="291" y="1282">10</text><text x="291" y="1311">9</text><text x="291" y="1341">8</text>
</g>
<g font-size="24.5">
<text x="516" y="1042">18</text><text x="516" y="1072">17</text><text x="516" y="1102">16</text><text x="516" y="1132">15</text><text x="516" y="1162">14</text><text x="516" y="1192">13</text><text x="516" y="1222">12</text><text x="516" y="1252">11</text><text x="516" y="1282">10</text><text x="516" y="1311">9</text><text x="516" y="1341">8</text>
</g>
<path class="fb" d="M299 1030H336.5V1330H299zM355.500 1030H393.500V1330H355.500zM412 1030H450V1330H412zM469 1030H507V1330H469z"/>
<path class="fb" d="M299 1060H336.500M299 1090H336.500M299 1120H336.500M299 1150H336.500M299 1180H336.500M299 1210H336.500M299 1240H336.500M299 1270H336.500M299 1300H336.500M355.500 1060H393.500M355.500 1090H393.500M355.500 1120H393.500M355.500 1150H393.500M355.500 1180H393.500M355.500 1210H393.500M355.500 1240H393.500M355.500 1270H393.500M355.500 1300H393.500M412 1060H450M412 1090H450M412 1120H450M412 1150H450M412 1180H450M412 1210H450M412 1240H450M412 1270H450M412 1300H450M469 1060H507M469 1090H507M469 1120H507M469 1150H507M469 1180H507M469 1210H507M469 1240H507M469 1270H507M469 1300H507"/>
<g fill="#ff4000">
<rect x="293.400" y="1247" width="49" height="3"/><rect x="299" y="1250" width="37.500" height="6"/><rect x="293.400" y="1256" width="49" height="3"/>
<rect x="350" y="1241" width="49" height="3"/><rect x="406.500" y="1241" width="49.500" height="3"/>
<rect x="463.400" y="1184.500" width="49" height="3"/><rect x="469" y="1187.500" width="38" height="6"/><rect x="463.400" y="1193" width="49" height="3"/>
</g>

<!-- site labels -->
<g font-size="32.5">
<text x="1003" y="1393">cvw</text><text x="1079" y="1393">cve</text>
<text x="1079" y="1421" style="fill:#ff00ff">b13</text>
<text x="1659" y="1397">fhw</text><text x="1730" y="1397">fhe</text>
<text x="1665" y="1423" style="fill:#ff00ff">b10</text>
</g>
</svg>
</body></html>
